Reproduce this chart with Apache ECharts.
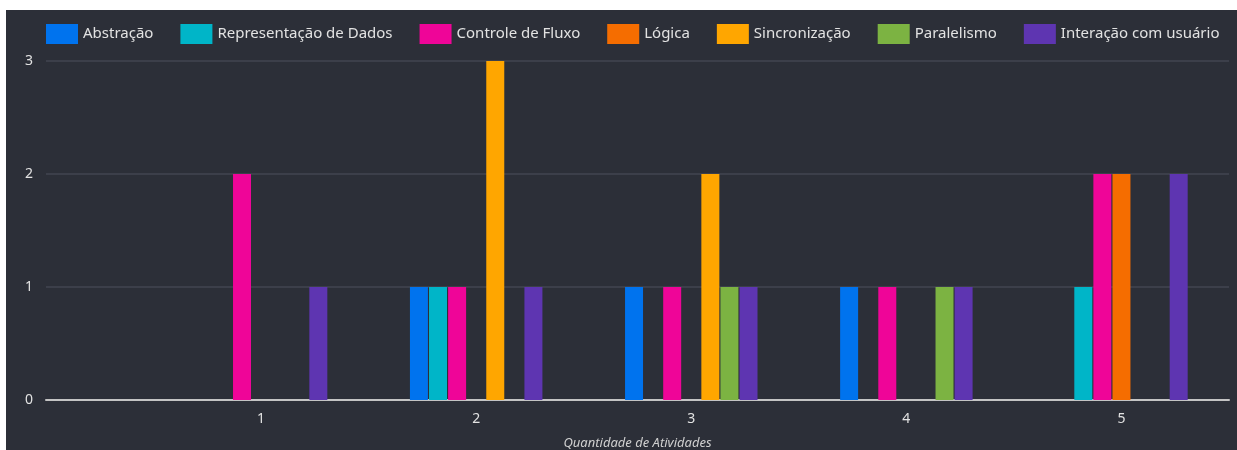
<!DOCTYPE html>
<html>
<head>
<meta charset="utf-8">
<script src="https://cdn.jsdelivr.net/npm/echarts@6/dist/echarts.min.js"></script>
<style>
  html, body { margin: 0; padding: 0; background: #ffffff; }
  #chart { position: absolute; left: 6px; top: 10px; width: 1231px; height: 440px; background: #2c2f38; }
</style>
</head>
<body>
<div id="chart"></div>
<script>
// quantidade de atividades (eixo x)
const categories = [1, 2, 3, 4, 5]

const abstracao      = [0, 1, 1, 1, 0]
const representacao  = [0, 1, 0, 0, 1]
const controleFluxo  = [2, 1, 1, 1, 2]
const logica         = [0, 0, 0, 0, 2]
const sincronizacao  = [0, 3, 2, 0, 0]
const paralelismo    = [0, 0, 1, 1, 0]
const interacao      = [1, 1, 1, 1, 2]

const yTicks = [0, 1, 2, 3]

const seriesDefs = [
  { name: 'Abstração', data: abstracao, color: '#0073ee' },
  { name: 'Representação de Dados', data: representacao, color: '#00b5c8' },
  { name: 'Controle de Fluxo', data: controleFluxo, color: '#ef0598' },
  { name: 'Lógica', data: logica, color: '#f56d00' },
  { name: 'Sincronização', data: sincronizacao, color: '#ffa600' },
  { name: 'Paralelismo', data: paralelismo, color: '#7cb342' },
  { name: 'Interação com usuário', data: interacao, color: '#5e35b1' },
]

const font = 'Noto Sans'
const text = '#e2e2e2'

const chart = echarts.init(document.getElementById('chart'))

chart.setOption({
  animation: false,
  backgroundColor: '#2c2f38',
  textStyle: { fontFamily: font },
  legend: {
    left: 35,
    top: 9,
    itemWidth: 32,
    itemHeight: 20,
    itemGap: 27,
    icon: 'rect',
    textStyle: { color: text, fontSize: 15, fontFamily: font },
    data: seriesDefs.map((s) => s.name),
  },
  grid: { left: 40, right: 8, top: 51, bottom: 50, outerBoundsMode: 'none' },
  xAxis: {
    type: 'value',
    min: 0,
    max: 5.5,
    interval: 1,
    name: 'Quantidade de Atividades',
    nameLocation: 'middle',
    nameGap: 37,
    nameTextStyle: { color: '#d0d0d0', fontSize: 13, fontStyle: 'italic', fontFamily: font },
    axisLine: { show: true, lineStyle: { color: '#c4c4c4', width: 2 } },
    axisTick: { show: false },
    splitLine: { show: false },
    axisLabel: {
      color: text,
      fontSize: 14,
      margin: 12,
      showMaxLabel: false,
      formatter: (v) => (categories.includes(v) ? String(v) : ''),
    },
  },
  yAxis: {
    type: 'value',
    min: yTicks[0],
    max: yTicks[yTicks.length - 1],
    interval: 1,
    axisLine: { show: false },
    axisTick: { show: false },
    splitLine: { lineStyle: { color: '#3c3f4a', width: 2 } },
    axisLabel: { color: text, fontSize: 14, margin: 13 },
  },
  series: seriesDefs.map((s) => ({
    name: s.name,
    type: 'bar',
    barWidth: 18,
    barGap: '6%',
    itemStyle: { color: s.color },
    data: categories.map((c, i) => [c, s.data[i]]),
  })),
})
</script>
</body>
</html>
